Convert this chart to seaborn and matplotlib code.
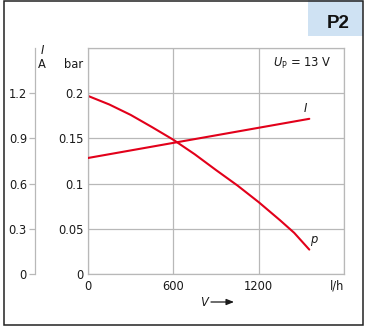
import matplotlib
matplotlib.use("Agg")
import matplotlib.pyplot as plt
from matplotlib.patches import Rectangle
import seaborn as sns

# Delivery pressure p and current draw I versus flow rate V (pump at 13 V)
flow_p = [0, 150, 300, 450, 600, 750, 900, 1050, 1200, 1350, 1450, 1556]
pressure_bar = [0.197, 0.1875, 0.176, 0.1625, 0.1485, 0.1325, 0.115, 0.098,
                0.0795, 0.0595, 0.0455, 0.027]
flow_i = [0, 1556]
current_a = [0.77, 1.03]

x_ticks = [0, 600, 1200]
x_tick_labels = ["0", "600", "1200"]
p_ticks = [0, 0.05, 0.1, 0.15, 0.2]
p_tick_labels = ["0", "0.05", "0.1", "0.15", "0.2"]
i_ticks = [0, 0.3, 0.6, 0.9, 1.2]
i_tick_labels = ["0", "0.3", "0.6", "0.9", "1.2"]

sns.set_style("white")
plt.rcParams["font.family"] = ["DejaVu Sans"]
plt.rcParams["mathtext.fontset"] = "dejavusans"

W, H = 366, 326
fig = plt.figure(figsize=(W / 100, H / 100), dpi=100)
fig.patch.set_facecolor("white")


def fx(px):
    return px / W


def fy(py):
    return 1 - py / H


left, right, top, bottom = 88, 344, 48, 274
ax = fig.add_axes([fx(left), fy(bottom), fx(right - left), (bottom - top) / H])

RED = "#e2001a"
GRID = "#b8b8b8"
TXT = "#1a1a1a"
FS = 8.3

sns.lineplot(x=flow_p, y=pressure_bar, ax=ax, color=RED, linewidth=1.5)
ax.set_xlim(0, 1800)
ax.set_ylim(0, 0.25)
ax.set_xticks(x_ticks + [1800])
ax.set_xticklabels(x_tick_labels + [""])
ax.set_yticks(p_ticks + [0.25])
ax.set_yticklabels(p_tick_labels + [""])
ax.grid(True, color=GRID, linewidth=0.9)
ax.tick_params(axis="both", length=0, labelsize=FS, colors=TXT)
ax.tick_params(axis="x", pad=4)
ax.tick_params(axis="y", pad=3)
for s in ax.spines.values():
    s.set_color(GRID)
    s.set_linewidth(0.9)
ax.set_xlabel("")
ax.set_ylabel("")

# Current on a second scale, spine shifted left of the pressure labels
ax2 = ax.twinx()
sns.lineplot(x=flow_i, y=current_a, ax=ax2, color=RED, linewidth=1.5)
ax2.set_ylim(0, 1.5)
ax2.yaxis.set_ticks_position("left")
ax2.yaxis.set_label_position("left")
ax2.spines["left"].set_position(("outward", left - 50))
for k in ("right", "top", "bottom"):
    ax2.spines[k].set_visible(False)
ax2.spines["left"].set_color(GRID)
ax2.spines["left"].set_linewidth(0.9)
ax2.set_yticks(i_ticks)
ax2.set_yticklabels(i_tick_labels)
ax2.tick_params(axis="y", length=4, width=0.9, color=GRID, labelsize=FS,
                labelcolor=TXT, pad=2)
ax2.set_ylabel("")

# Axis units and labels
fig.text(fx(42), fy(51), "I", fontsize=FS, style="italic", ha="center", va="center", color=TXT)
fig.text(fx(42), fy(65), "A", fontsize=FS, ha="center", va="center", color=TXT)
fig.text(fx(74), fy(64), "bar", fontsize=FS, ha="center", va="center", color=TXT)
fig.text(fx(337), fy(286), "l/h", fontsize=FS, ha="center", va="center", color=TXT)
fig.text(fx(204), fy(302), "V", fontsize=FS, style="italic", ha="center", va="center", color=TXT)
ax.annotate("", xy=(fx(234), fy(302)), xytext=(fx(211), fy(302)),
            xycoords="figure fraction", textcoords="figure fraction",
            arrowprops=dict(arrowstyle="-|>,head_length=0.45,head_width=0.18",
                            color=TXT, lw=0.9, shrinkA=0, shrinkB=0))

ax.text(1716, 0.2333, r"$U_{\mathrm{P}}$ = 13 V", fontsize=FS, ha="right", va="center", color=TXT)
ax.text(1530, 0.1833, "I", fontsize=FS, style="italic", ha="center", va="center", color=TXT)
ax.text(1589, 0.0378, "p", fontsize=FS, style="italic", ha="center", va="center", color=TXT)

# Figure tag and frame
fig.patches.append(Rectangle((fx(308), fy(36)), fx(363 - 308), 36 / H,
                             transform=fig.transFigure, facecolor="#cfe2f3",
                             edgecolor="none", zorder=0))
fig.text(fx(338), fy(23.5), "P2", fontsize=13.5, fontweight="bold", ha="center",
         va="center", color="#111111", family=["Liberation Sans"])
fig.patches.append(Rectangle((fx(3.5), fy(324.5)), fx(359), 323.5 / H,
                             transform=fig.transFigure, facecolor="none",
                             edgecolor="#222222", linewidth=1.1, zorder=5))

fig.savefig("out.png", dpi=100, facecolor="white")
